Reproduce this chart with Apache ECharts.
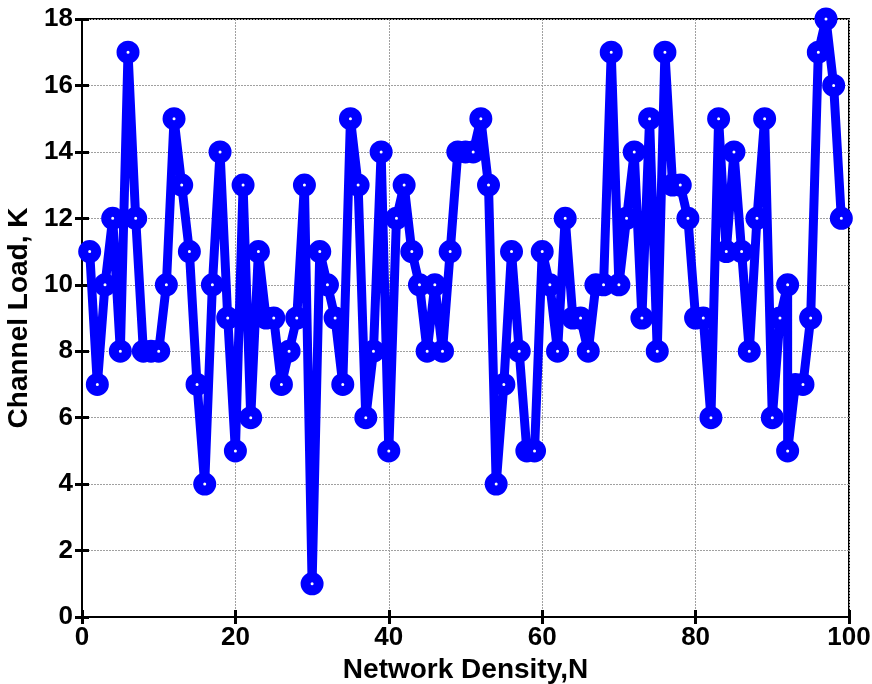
<!DOCTYPE html>
<html>
<head>
<meta charset="utf-8">
<title>Channel Load</title>
<script src="https://cdn.jsdelivr.net/npm/echarts@6/dist/echarts.min.js"></script>
<style>
  html, body { margin: 0; padding: 0; background: #fff; }
  #chart { width: 872px; height: 684px; }
</style>
</head>
<body>
<div id="chart"></div>
<script>
// network density (x) for every point
const density = [
  1, 2, 3, 4, 5, 6, 7, 8, 9, 10,
  11, 12, 13, 14, 15, 16, 17, 18, 19, 20,
  21, 22, 23, 24, 25, 26, 27, 28, 29, 30,
  31, 32, 33, 34, 35, 36, 37, 38, 39, 40,
  41, 42, 43, 44, 45, 46, 47, 48, 49, 50,
  51, 52, 53, 54, 55, 56, 57, 58, 59, 60,
  61, 62, 63, 64, 65, 66, 67, 68, 69, 70,
  71, 72, 73, 74, 75, 76, 77, 78, 79, 80,
  81, 82, 83, 84, 85, 86, 87, 88, 89, 90,
  91, 92, 92, 93, 94, 95, 96, 97, 98, 99
]
// channel load K
const channelLoad = [
  11, 7, 10, 12, 8, 17, 12, 8, 8, 8,
  10, 15, 13, 11, 7, 4, 10, 14, 9, 5,
  13, 6, 11, 9, 9, 7, 8, 9, 13, 1,
  11, 10, 9, 7, 15, 13, 6, 8, 14, 5,
  12, 13, 11, 10, 8, 10, 8, 11, 14, 14,
  14, 15, 13, 4, 7, 11, 8, 5, 5, 11,
  10, 8, 12, 9, 9, 8, 10, 10, 17, 10,
  12, 14, 9, 15, 8, 17, 13, 13, 12, 9,
  9, 6, 15, 11, 14, 11, 8, 12, 15, 6,
  9, 10, 5, 7, 7, 9, 17, 18, 16, 12
]
const xTicks = [0, 20, 40, 60, 80, 100]
const yTicks = [0, 2, 4, 6, 8, 10, 12, 14, 16, 18]

const font = 'Liberation Sans, Arial, sans-serif'
const blue = '#0000ff'

let chart = echarts.init(document.getElementById('chart'))

function axisBase(ticks) {
  return {
    type: 'value',
    min: ticks[0],
    max: ticks[ticks.length - 1],
    interval: ticks[1] - ticks[0],
    axisLine: { show: true, lineStyle: { color: '#000', width: 2 } },
    axisTick: { show: true, inside: true, length: 7, lineStyle: { color: '#000', width: 3 } }
  }
}

chart.setOption({
  animation: false,
  grid: {
    left: 82,
    right: 23,
    top: 19,
    bottom: 67,
    outerBoundsMode: 'none',
    show: true,
    borderColor: '#000',
    borderWidth: 2
  },
  xAxis: [
    Object.assign(axisBase(xTicks), {
      position: 'bottom',
      name: 'Network Density,N',
      nameLocation: 'middle',
      nameGap: 32,
      nameTextStyle: { color: '#000', fontFamily: font, fontWeight: 'bold', fontSize: 28 },
      axisLabel: { color: '#000', fontFamily: font, fontWeight: 'bold', fontSize: 26, margin: 8 },
      // dotted grid
      splitLine: { show: true, lineStyle: { color: '#a0a0a0', type: [2, 1], width: 1 } }
    }),
    Object.assign(axisBase(xTicks), {
      position: 'top',
      axisLabel: { show: false },
      splitLine: { show: false }
    })
  ],
  yAxis: [
    Object.assign(axisBase(yTicks), {
      position: 'left',
      name: 'Channel Load, K',
      nameLocation: 'middle',
      nameGap: 47,
      nameTextStyle: { color: '#000', fontFamily: font, fontWeight: 'bold', fontSize: 28 },
      axisLabel: { color: '#000', fontFamily: font, fontWeight: 'bold', fontSize: 26, margin: 9 },
      splitLine: { show: true, lineStyle: { color: '#a0a0a0', type: [2, 1], width: 1 } }
    }),
    Object.assign(axisBase(yTicks), {
      position: 'right',
      axisLabel: { show: false },
      splitLine: { show: false }
    })
  ],
  series: [
    {
      type: 'line',
      xAxisIndex: 0,
      yAxisIndex: 0,
      data: density.map((x, i) => [x, channelLoad[i]]),
      clip: false,
      symbol: 'circle',
      symbolSize: 13,
      showAllSymbol: true,
      lineStyle: { color: blue, width: 9 },
      itemStyle: { color: '#fff', borderColor: blue, borderWidth: 10 },
      emphasis: { disabled: true },
      z: 5
    }
  ]
})
</script>
</body>
</html>
